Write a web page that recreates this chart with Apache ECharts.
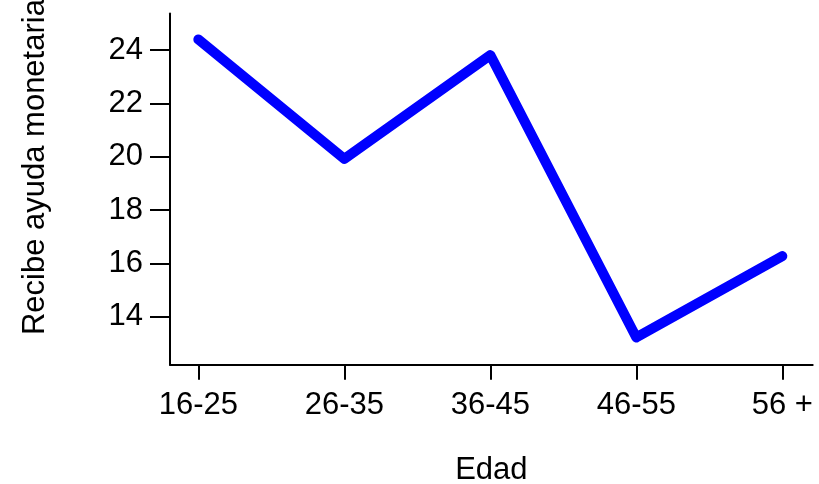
<!DOCTYPE html>
<html>
<head>
<meta charset="utf-8">
<script src="https://cdn.jsdelivr.net/npm/echarts@6/dist/echarts.min.js"></script>
<style>html,body{margin:0;padding:0;background:#fff}#c{width:819px;height:484px}</style>
</head>
<body>
<div id="c"></div>
<script>
var categories = ['16-25', '26-35', '36-45', '46-55', '56 +'];
var values = [24.4, 19.92, 23.81, 13.23, 16.28];
var yTicks = [14, 16, 18, 20, 22, 24];
var xTicks = [0, 1, 2, 3, 4];

var chart = echarts.init(document.getElementById('c'), null, {renderer: 'canvas'});
var font = 'Liberation Sans, Arial, Helvetica, sans-serif';
var seriesData = values.map(function (v, i) { return [i, v]; });

chart.setOption({
  animation: false,
  backgroundColor: '#ffffff',
  grid: {left: 170, top: 13.5, right: 6.3, bottom: 119.3, containLabel: false, outerBoundsMode: 'none'},
  xAxis: {
    type: 'value',
    min: -0.194,
    max: 4.208,
    name: 'Edad',
    nameLocation: 'middle',
    nameGap: 90,
    nameTextStyle: {fontFamily: font, fontSize: 31, color: '#000'},
    splitLine: {show: false},
    axisLine: {show: true, onZero: false, lineStyle: {color: '#000', width: 2}},
    axisTick: {show: true, length: 15, lineStyle: {color: '#000', width: 2}, customValues: xTicks},
    axisLabel: {
      show: true, margin: 25, fontFamily: font, fontSize: 31, color: '#000',
      customValues: xTicks,
      formatter: function (v) { return categories[Math.round(v)]; }
    }
  },
  yAxis: {
    type: 'value',
    min: 12.21,
    max: 25.37,
    name: 'Recibe ayuda monetaria',
    nameLocation: 'middle',
    nameRotate: 90,
    nameGap: 119,
    nameTextStyle: {fontFamily: font, fontSize: 31, color: '#000', padding: [0, 0, 0, 44]},
    splitLine: {show: false},
    axisLine: {show: true, onZero: false, lineStyle: {color: '#000', width: 2}},
    axisTick: {show: true, length: 20, lineStyle: {color: '#000', width: 2}, customValues: yTicks},
    axisLabel: {
      show: true, margin: 27, fontFamily: font, fontSize: 31, color: '#000',
      customValues: yTicks
    }
  },
  series: [{
    type: 'line',
    data: seriesData,
    showSymbol: false,
    symbol: 'none',
    lineStyle: {color: '#0000ff', width: 10, cap: 'round', join: 'round'},
    silent: true
  }]
});
</script>
</body>
</html>
